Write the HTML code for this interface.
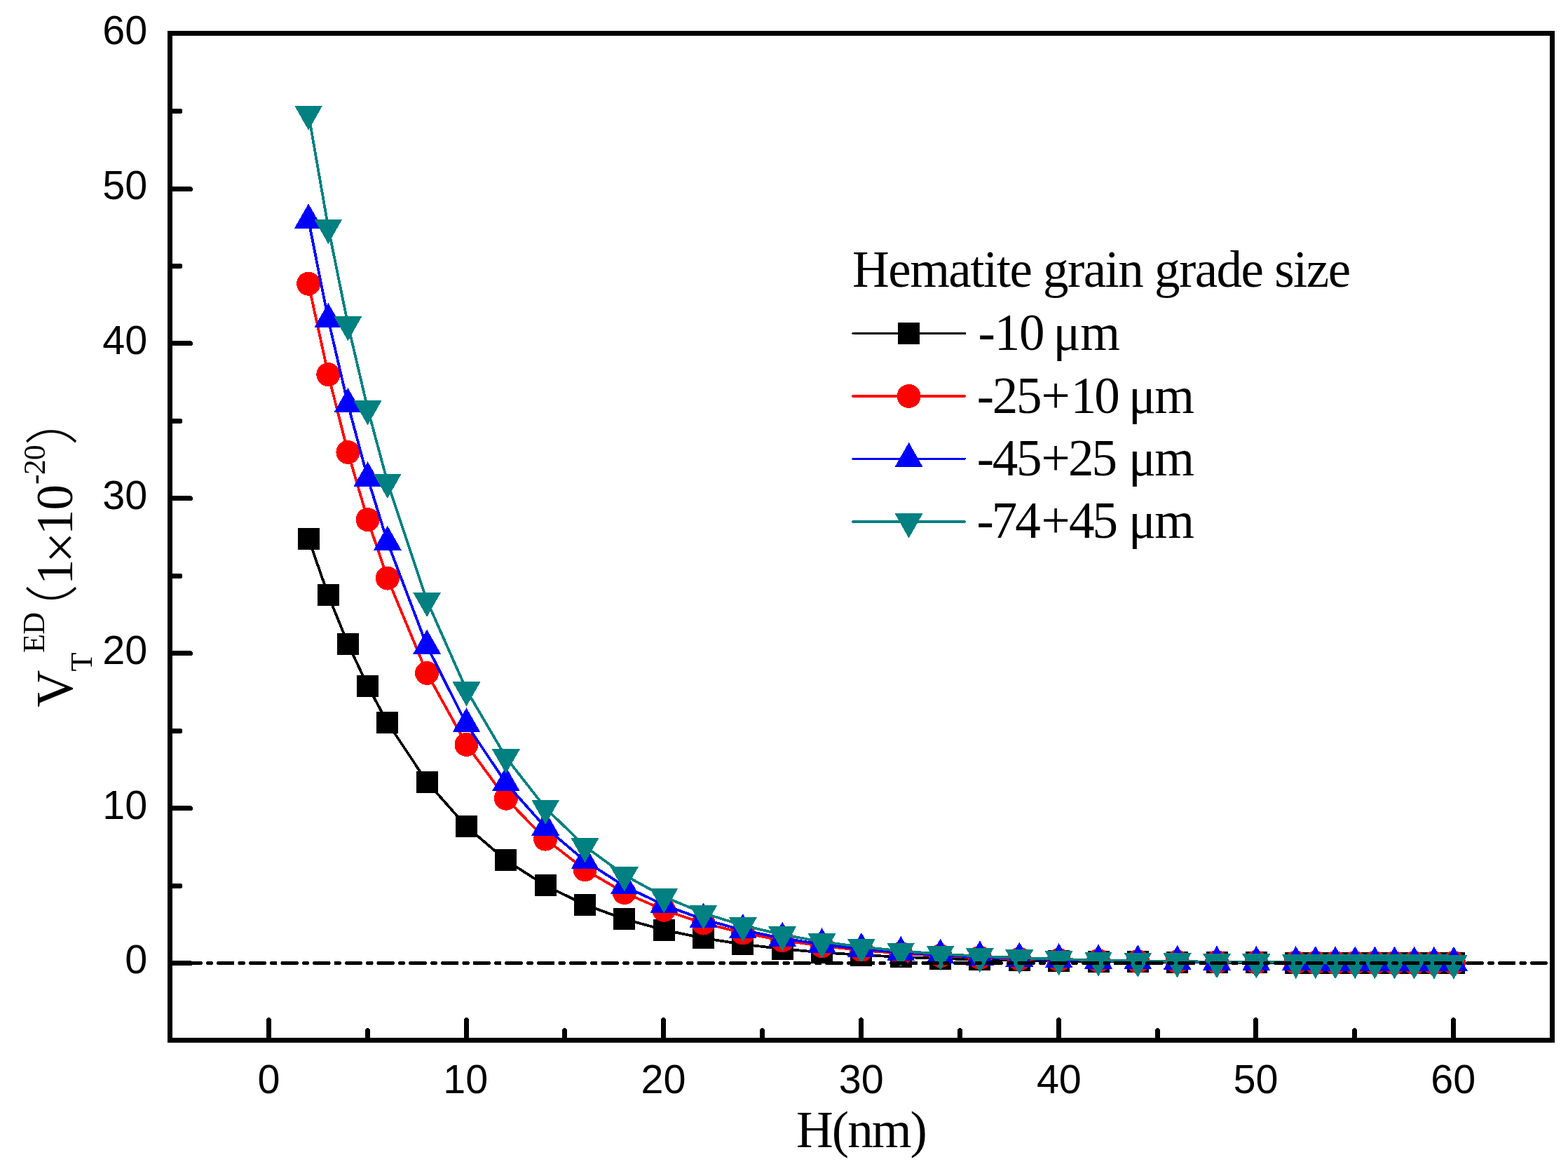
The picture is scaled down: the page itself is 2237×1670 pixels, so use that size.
<!DOCTYPE html>
<html lang="en">
<head>
<meta charset="utf-8">
<title>Hematite grain grade size chart</title>
<style>
html,body{margin:0;padding:0;background:#fff;}
body{width:2237px;height:1670px;overflow:hidden;}
svg{display:block;}
text{fill:#000;white-space:pre;}
.tk{font-family:"Liberation Sans",sans-serif;font-size:57.5px;}
.ti{font-family:"Liberation Serif",serif;font-size:73px;}
.ss{font-family:"Liberation Serif",serif;font-size:44px;}
.mu{font-family:"Liberation Serif",serif;font-size:79px;}
.fw{font-family:"Liberation Serif","Noto Sans CJK SC","Noto Serif CJK SC",sans-serif;font-size:76px;font-weight:300;}
</style>
</head>
<body>
<svg width="2237" height="1670" viewBox="0 0 2237 1670">
<rect x="0" y="0" width="2237" height="1670" fill="#ffffff"/>

<g shape-rendering="crispEdges">
<polyline points="440.1,768.0 468.3,848.9 496.4,918.2 524.6,978.3 552.8,1030.4 609.1,1115.0 665.5,1178.7 721.8,1226.8 778.2,1262.9 834.5,1290.2 890.8,1310.7 947.2,1326.2 1003.5,1337.9 1059.9,1346.7 1116.2,1353.3 1172.6,1358.3 1228.9,1362.0 1285.2,1364.8 1341.6,1367.0 1397.9,1368.6 1454.3,1369.8 1510.6,1370.7 1567.0,1371.4 1623.3,1371.9 1679.6,1372.3 1736.0,1372.6 1792.3,1372.8 1848.7,1373.0 1876.8,1373.1 1905.0,1373.1 1933.2,1373.2 1961.4,1373.2 1989.5,1373.2 2017.7,1373.3 2045.9,1373.3 2074.0,1373.3" fill="none" stroke="#000000" stroke-width="3.8" stroke-linejoin="round"/>
<rect x="424.6" y="752.5" width="31" height="31" fill="#000000"/>
<rect x="452.8" y="833.4" width="31" height="31" fill="#000000"/>
<rect x="480.9" y="902.7" width="31" height="31" fill="#000000"/>
<rect x="509.1" y="962.8" width="31" height="31" fill="#000000"/>
<rect x="537.3" y="1014.9" width="31" height="31" fill="#000000"/>
<rect x="593.6" y="1099.5" width="31" height="31" fill="#000000"/>
<rect x="650.0" y="1163.2" width="31" height="31" fill="#000000"/>
<rect x="706.3" y="1211.3" width="31" height="31" fill="#000000"/>
<rect x="762.7" y="1247.4" width="31" height="31" fill="#000000"/>
<rect x="819.0" y="1274.7" width="31" height="31" fill="#000000"/>
<rect x="875.3" y="1295.2" width="31" height="31" fill="#000000"/>
<rect x="931.7" y="1310.7" width="31" height="31" fill="#000000"/>
<rect x="988.0" y="1322.4" width="31" height="31" fill="#000000"/>
<rect x="1044.4" y="1331.2" width="31" height="31" fill="#000000"/>
<rect x="1100.7" y="1337.8" width="31" height="31" fill="#000000"/>
<rect x="1157.1" y="1342.8" width="31" height="31" fill="#000000"/>
<rect x="1213.4" y="1346.5" width="31" height="31" fill="#000000"/>
<rect x="1269.7" y="1349.3" width="31" height="31" fill="#000000"/>
<rect x="1326.1" y="1351.5" width="31" height="31" fill="#000000"/>
<rect x="1382.4" y="1353.1" width="31" height="31" fill="#000000"/>
<rect x="1438.8" y="1354.3" width="31" height="31" fill="#000000"/>
<rect x="1495.1" y="1355.2" width="31" height="31" fill="#000000"/>
<rect x="1551.5" y="1355.9" width="31" height="31" fill="#000000"/>
<rect x="1607.8" y="1356.4" width="31" height="31" fill="#000000"/>
<rect x="1664.1" y="1356.8" width="31" height="31" fill="#000000"/>
<rect x="1720.5" y="1357.1" width="31" height="31" fill="#000000"/>
<rect x="1776.8" y="1357.3" width="31" height="31" fill="#000000"/>
<rect x="1833.2" y="1357.5" width="31" height="31" fill="#000000"/>
<rect x="1861.3" y="1357.6" width="31" height="31" fill="#000000"/>
<rect x="1889.5" y="1357.6" width="31" height="31" fill="#000000"/>
<rect x="1917.7" y="1357.7" width="31" height="31" fill="#000000"/>
<rect x="1945.9" y="1357.7" width="31" height="31" fill="#000000"/>
<rect x="1974.0" y="1357.7" width="31" height="31" fill="#000000"/>
<rect x="2002.2" y="1357.8" width="31" height="31" fill="#000000"/>
<rect x="2030.4" y="1357.8" width="31" height="31" fill="#000000"/>
<rect x="2058.5" y="1357.8" width="31" height="31" fill="#000000"/>
</g>
<g shape-rendering="crispEdges">
<polyline points="440.1,404.7 468.3,534.2 496.4,645.0 524.6,741.1 552.8,824.6 609.1,959.9 665.5,1061.9 721.8,1138.7 778.2,1196.6 834.5,1240.2 890.8,1273.1 947.2,1297.8 1003.5,1316.5 1059.9,1330.5 1116.2,1341.1 1172.6,1349.1 1228.9,1355.1 1285.2,1359.7 1341.6,1363.1 1397.9,1365.6 1454.3,1367.6 1510.6,1369.0 1567.0,1370.1 1623.3,1371.0 1679.6,1371.6 1736.0,1372.1 1792.3,1372.4 1848.7,1372.7 1876.8,1372.8 1905.0,1372.9 1933.2,1373.0 1961.4,1373.0 1989.5,1373.1 2017.7,1373.2 2045.9,1373.2 2074.0,1373.2" fill="none" stroke="#ff0000" stroke-width="3.8" stroke-linejoin="round"/>
<circle cx="440.1" cy="404.7" r="17" fill="#ff0000"/>
<circle cx="468.3" cy="534.2" r="17" fill="#ff0000"/>
<circle cx="496.4" cy="645.0" r="17" fill="#ff0000"/>
<circle cx="524.6" cy="741.1" r="17" fill="#ff0000"/>
<circle cx="552.8" cy="824.6" r="17" fill="#ff0000"/>
<circle cx="609.1" cy="959.9" r="17" fill="#ff0000"/>
<circle cx="665.5" cy="1061.9" r="17" fill="#ff0000"/>
<circle cx="721.8" cy="1138.7" r="17" fill="#ff0000"/>
<circle cx="778.2" cy="1196.6" r="17" fill="#ff0000"/>
<circle cx="834.5" cy="1240.2" r="17" fill="#ff0000"/>
<circle cx="890.8" cy="1273.1" r="17" fill="#ff0000"/>
<circle cx="947.2" cy="1297.8" r="17" fill="#ff0000"/>
<circle cx="1003.5" cy="1316.5" r="17" fill="#ff0000"/>
<circle cx="1059.9" cy="1330.5" r="17" fill="#ff0000"/>
<circle cx="1116.2" cy="1341.1" r="17" fill="#ff0000"/>
<circle cx="1172.6" cy="1349.1" r="17" fill="#ff0000"/>
<circle cx="1228.9" cy="1355.1" r="17" fill="#ff0000"/>
<circle cx="1285.2" cy="1359.7" r="17" fill="#ff0000"/>
<circle cx="1341.6" cy="1363.1" r="17" fill="#ff0000"/>
<circle cx="1397.9" cy="1365.6" r="17" fill="#ff0000"/>
<circle cx="1454.3" cy="1367.6" r="17" fill="#ff0000"/>
<circle cx="1510.6" cy="1369.0" r="17" fill="#ff0000"/>
<circle cx="1567.0" cy="1370.1" r="17" fill="#ff0000"/>
<circle cx="1623.3" cy="1371.0" r="17" fill="#ff0000"/>
<circle cx="1679.6" cy="1371.6" r="17" fill="#ff0000"/>
<circle cx="1736.0" cy="1372.1" r="17" fill="#ff0000"/>
<circle cx="1792.3" cy="1372.4" r="17" fill="#ff0000"/>
<circle cx="1848.7" cy="1372.7" r="17" fill="#ff0000"/>
<circle cx="1876.8" cy="1372.8" r="17" fill="#ff0000"/>
<circle cx="1905.0" cy="1372.9" r="17" fill="#ff0000"/>
<circle cx="1933.2" cy="1373.0" r="17" fill="#ff0000"/>
<circle cx="1961.4" cy="1373.0" r="17" fill="#ff0000"/>
<circle cx="1989.5" cy="1373.1" r="17" fill="#ff0000"/>
<circle cx="2017.7" cy="1373.2" r="17" fill="#ff0000"/>
<circle cx="2045.9" cy="1373.2" r="17" fill="#ff0000"/>
<circle cx="2074.0" cy="1373.2" r="17" fill="#ff0000"/>
</g>
<g shape-rendering="crispEdges">
<polyline points="440.1,313.8 468.3,455.5 496.4,576.7 524.6,681.8 552.8,773.1 609.1,921.1 665.5,1032.7 721.8,1116.7 778.2,1180.0 834.5,1227.7 890.8,1263.7 947.2,1290.7 1003.5,1311.1 1059.9,1326.5 1116.2,1338.1 1172.6,1346.8 1228.9,1353.4 1285.2,1358.4 1341.6,1362.1 1397.9,1364.9 1454.3,1367.0 1510.6,1368.6 1567.0,1369.8 1623.3,1370.7 1679.6,1371.4 1736.0,1371.9 1792.3,1372.3 1848.7,1372.6 1876.8,1372.7 1905.0,1372.8 1933.2,1372.9 1961.4,1373.0 1989.5,1373.1 2017.7,1373.1 2045.9,1373.2 2074.0,1373.2" fill="none" stroke="#0000ff" stroke-width="3.8" stroke-linejoin="round"/>
<path d="M440.1 290.3L460.1 325.5L420.1 325.5Z" fill="#0000ff"/>
<path d="M468.3 432.0L488.3 467.2L448.3 467.2Z" fill="#0000ff"/>
<path d="M496.4 553.2L516.4 588.4L476.4 588.4Z" fill="#0000ff"/>
<path d="M524.6 658.3L544.6 693.5L504.6 693.5Z" fill="#0000ff"/>
<path d="M552.8 749.6L572.8 784.8L532.8 784.8Z" fill="#0000ff"/>
<path d="M609.1 897.6L629.1 932.8L589.1 932.8Z" fill="#0000ff"/>
<path d="M665.5 1009.2L685.5 1044.4L645.5 1044.4Z" fill="#0000ff"/>
<path d="M721.8 1093.2L741.8 1128.4L701.8 1128.4Z" fill="#0000ff"/>
<path d="M778.2 1156.5L798.2 1191.7L758.2 1191.7Z" fill="#0000ff"/>
<path d="M834.5 1204.2L854.5 1239.4L814.5 1239.4Z" fill="#0000ff"/>
<path d="M890.8 1240.2L910.8 1275.4L870.8 1275.4Z" fill="#0000ff"/>
<path d="M947.2 1267.2L967.2 1302.4L927.2 1302.4Z" fill="#0000ff"/>
<path d="M1003.5 1287.6L1023.5 1322.8L983.5 1322.8Z" fill="#0000ff"/>
<path d="M1059.9 1303.0L1079.9 1338.2L1039.9 1338.2Z" fill="#0000ff"/>
<path d="M1116.2 1314.6L1136.2 1349.8L1096.2 1349.8Z" fill="#0000ff"/>
<path d="M1172.6 1323.3L1192.6 1358.5L1152.6 1358.5Z" fill="#0000ff"/>
<path d="M1228.9 1329.9L1248.9 1365.1L1208.9 1365.1Z" fill="#0000ff"/>
<path d="M1285.2 1334.9L1305.2 1370.1L1265.2 1370.1Z" fill="#0000ff"/>
<path d="M1341.6 1338.6L1361.6 1373.8L1321.6 1373.8Z" fill="#0000ff"/>
<path d="M1397.9 1341.4L1417.9 1376.6L1377.9 1376.6Z" fill="#0000ff"/>
<path d="M1454.3 1343.5L1474.3 1378.7L1434.3 1378.7Z" fill="#0000ff"/>
<path d="M1510.6 1345.1L1530.6 1380.3L1490.6 1380.3Z" fill="#0000ff"/>
<path d="M1567.0 1346.3L1587.0 1381.5L1547.0 1381.5Z" fill="#0000ff"/>
<path d="M1623.3 1347.2L1643.3 1382.4L1603.3 1382.4Z" fill="#0000ff"/>
<path d="M1679.6 1347.9L1699.6 1383.1L1659.6 1383.1Z" fill="#0000ff"/>
<path d="M1736.0 1348.4L1756.0 1383.6L1716.0 1383.6Z" fill="#0000ff"/>
<path d="M1792.3 1348.8L1812.3 1384.0L1772.3 1384.0Z" fill="#0000ff"/>
<path d="M1848.7 1349.1L1868.7 1384.3L1828.7 1384.3Z" fill="#0000ff"/>
<path d="M1876.8 1349.2L1896.8 1384.4L1856.8 1384.4Z" fill="#0000ff"/>
<path d="M1905.0 1349.3L1925.0 1384.5L1885.0 1384.5Z" fill="#0000ff"/>
<path d="M1933.2 1349.4L1953.2 1384.6L1913.2 1384.6Z" fill="#0000ff"/>
<path d="M1961.4 1349.5L1981.4 1384.7L1941.4 1384.7Z" fill="#0000ff"/>
<path d="M1989.5 1349.6L2009.5 1384.8L1969.5 1384.8Z" fill="#0000ff"/>
<path d="M2017.7 1349.6L2037.7 1384.8L1997.7 1384.8Z" fill="#0000ff"/>
<path d="M2045.9 1349.7L2065.9 1384.9L2025.9 1384.9Z" fill="#0000ff"/>
<path d="M2074.0 1349.7L2094.0 1384.9L2054.0 1384.9Z" fill="#0000ff"/>
</g>
<g shape-rendering="crispEdges">
<polyline points="440.1,162.4 468.3,324.4 496.4,462.8 524.6,583.0 552.8,687.4 609.1,856.5 665.5,984.0 721.8,1080.0 778.2,1152.4 834.5,1206.9 890.8,1248.0 947.2,1278.9 1003.5,1302.2 1059.9,1319.8 1116.2,1333.0 1172.6,1343.0 1228.9,1350.5 1285.2,1356.2 1341.6,1360.5 1397.9,1363.7 1454.3,1366.1 1510.6,1367.9 1567.0,1369.3 1623.3,1370.3 1679.6,1371.1 1736.0,1371.7 1792.3,1372.1 1848.7,1372.5 1876.8,1372.6 1905.0,1372.7 1933.2,1372.8 1961.4,1372.9 1989.5,1373.0 2017.7,1373.1 2045.9,1373.1 2074.0,1373.2" fill="none" stroke="#008080" stroke-width="3.8" stroke-linejoin="round"/>
<path d="M440.1 185.9L460.1 150.7L420.1 150.7Z" fill="#008080"/>
<path d="M468.3 347.9L488.3 312.7L448.3 312.7Z" fill="#008080"/>
<path d="M496.4 486.3L516.4 451.1L476.4 451.1Z" fill="#008080"/>
<path d="M524.6 606.5L544.6 571.3L504.6 571.3Z" fill="#008080"/>
<path d="M552.8 710.9L572.8 675.7L532.8 675.7Z" fill="#008080"/>
<path d="M609.1 880.0L629.1 844.8L589.1 844.8Z" fill="#008080"/>
<path d="M665.5 1007.5L685.5 972.3L645.5 972.3Z" fill="#008080"/>
<path d="M721.8 1103.5L741.8 1068.3L701.8 1068.3Z" fill="#008080"/>
<path d="M778.2 1175.9L798.2 1140.7L758.2 1140.7Z" fill="#008080"/>
<path d="M834.5 1230.4L854.5 1195.2L814.5 1195.2Z" fill="#008080"/>
<path d="M890.8 1271.5L910.8 1236.3L870.8 1236.3Z" fill="#008080"/>
<path d="M947.2 1302.4L967.2 1267.2L927.2 1267.2Z" fill="#008080"/>
<path d="M1003.5 1325.7L1023.5 1290.5L983.5 1290.5Z" fill="#008080"/>
<path d="M1059.9 1343.3L1079.9 1308.1L1039.9 1308.1Z" fill="#008080"/>
<path d="M1116.2 1356.5L1136.2 1321.3L1096.2 1321.3Z" fill="#008080"/>
<path d="M1172.6 1366.5L1192.6 1331.3L1152.6 1331.3Z" fill="#008080"/>
<path d="M1228.9 1374.0L1248.9 1338.8L1208.9 1338.8Z" fill="#008080"/>
<path d="M1285.2 1379.7L1305.2 1344.5L1265.2 1344.5Z" fill="#008080"/>
<path d="M1341.6 1384.0L1361.6 1348.8L1321.6 1348.8Z" fill="#008080"/>
<path d="M1397.9 1387.2L1417.9 1352.0L1377.9 1352.0Z" fill="#008080"/>
<path d="M1454.3 1389.6L1474.3 1354.4L1434.3 1354.4Z" fill="#008080"/>
<path d="M1510.6 1391.4L1530.6 1356.2L1490.6 1356.2Z" fill="#008080"/>
<path d="M1567.0 1392.8L1587.0 1357.6L1547.0 1357.6Z" fill="#008080"/>
<path d="M1623.3 1393.8L1643.3 1358.6L1603.3 1358.6Z" fill="#008080"/>
<path d="M1679.6 1394.6L1699.6 1359.4L1659.6 1359.4Z" fill="#008080"/>
<path d="M1736.0 1395.2L1756.0 1360.0L1716.0 1360.0Z" fill="#008080"/>
<path d="M1792.3 1395.6L1812.3 1360.4L1772.3 1360.4Z" fill="#008080"/>
<path d="M1848.7 1396.0L1868.7 1360.8L1828.7 1360.8Z" fill="#008080"/>
<path d="M1876.8 1396.1L1896.8 1360.9L1856.8 1360.9Z" fill="#008080"/>
<path d="M1905.0 1396.2L1925.0 1361.0L1885.0 1361.0Z" fill="#008080"/>
<path d="M1933.2 1396.3L1953.2 1361.1L1913.2 1361.1Z" fill="#008080"/>
<path d="M1961.4 1396.4L1981.4 1361.2L1941.4 1361.2Z" fill="#008080"/>
<path d="M1989.5 1396.5L2009.5 1361.3L1969.5 1361.3Z" fill="#008080"/>
<path d="M2017.7 1396.6L2037.7 1361.4L1997.7 1361.4Z" fill="#008080"/>
<path d="M2045.9 1396.6L2065.9 1361.4L2025.9 1361.4Z" fill="#008080"/>
<path d="M2074.0 1396.7L2094.0 1361.5L2054.0 1361.5Z" fill="#008080"/>
</g>
<line x1="242.5" y1="1373.5" x2="2214.5" y2="1373.5" stroke="#000" stroke-width="5" stroke-linecap="round" stroke-dasharray="20.5 10 5.3 9.9" stroke-dashoffset="22.4" shape-rendering="crispEdges"/>
<g stroke="#000" stroke-width="7" fill="none" shape-rendering="crispEdges">
<rect x="242.5" y="47.5" width="1972.0" height="1436.0"/>
</g>
<g stroke="#000" stroke-width="7" fill="none" stroke-linecap="round" shape-rendering="crispEdges">
<line x1="242.5" y1="1373.5" x2="271.5" y2="1373.5"/>
<line x1="242.5" y1="1263.5" x2="257.0" y2="1263.5"/>
<line x1="242.5" y1="1152.5" x2="271.5" y2="1152.5"/>
<line x1="242.5" y1="1042.5" x2="257.0" y2="1042.5"/>
<line x1="242.5" y1="931.5" x2="271.5" y2="931.5"/>
<line x1="242.5" y1="821.5" x2="257.0" y2="821.5"/>
<line x1="242.5" y1="710.5" x2="271.5" y2="710.5"/>
<line x1="242.5" y1="600.5" x2="257.0" y2="600.5"/>
<line x1="242.5" y1="489.5" x2="271.5" y2="489.5"/>
<line x1="242.5" y1="379.5" x2="257.0" y2="379.5"/>
<line x1="242.5" y1="269.5" x2="271.5" y2="269.5"/>
<line x1="242.5" y1="158.5" x2="257.0" y2="158.5"/>
<line x1="383.5" y1="1483.5" x2="383.5" y2="1454.5"/>
<line x1="524.5" y1="1483.5" x2="524.5" y2="1469.5"/>
<line x1="665.5" y1="1483.5" x2="665.5" y2="1454.5"/>
<line x1="805.5" y1="1483.5" x2="805.5" y2="1469.5"/>
<line x1="946.5" y1="1483.5" x2="946.5" y2="1454.5"/>
<line x1="1087.5" y1="1483.5" x2="1087.5" y2="1469.5"/>
<line x1="1228.5" y1="1483.5" x2="1228.5" y2="1454.5"/>
<line x1="1369.5" y1="1483.5" x2="1369.5" y2="1469.5"/>
<line x1="1510.5" y1="1483.5" x2="1510.5" y2="1454.5"/>
<line x1="1651.5" y1="1483.5" x2="1651.5" y2="1469.5"/>
<line x1="1791.5" y1="1483.5" x2="1791.5" y2="1454.5"/>
<line x1="1932.5" y1="1483.5" x2="1932.5" y2="1469.5"/>
<line x1="2073.5" y1="1483.5" x2="2073.5" y2="1454.5"/>
</g>
<g>
<text class="tk" x="178.2" y="1388.4">0</text>
<text class="tk" x="146.2" y="1168.4">10</text>
<text class="tk" x="146.2" y="947.4">20</text>
<text class="tk" x="146.2" y="726.4">30</text>
<text class="tk" x="146.2" y="505.4">40</text>
<text class="tk" x="146.2" y="284.4">50</text>
<text class="tk" x="146.2" y="63.4">60</text>
<text class="tk" x="367.6" y="1559.4">0</text>
<text class="tk" x="632.3" y="1559.4">10</text>
<text class="tk" x="914.5" y="1559.4">20</text>
<text class="tk" x="1196.7" y="1559.4">30</text>
<text class="tk" x="1478.9" y="1559.4">40</text>
<text class="tk" x="1759.6" y="1559.4">50</text>
<text class="tk" x="2041.3" y="1559.4">60</text>
<text class="ti" x="1136.0" y="1635.9" style="letter-spacing:-1.93px">H(nm)</text>
<text class="ti" x="1216.1" y="409.2" style="letter-spacing:-1.54px">Hematite grain grade size</text>
<text><tspan class="ti" x="1395.6" y="499.3" style="letter-spacing:-1.25px">-10 </tspan><tspan class="ti" x="1502.5" y="499.3" style="letter-spacing:-0.40px">μm</tspan></text>
<text><tspan class="ti" x="1393.7" y="588.6" style="letter-spacing:-2.30px">-25</tspan><tspan class="ti" x="1485.6" y="588.6">+</tspan><tspan class="ti" x="1527.7" y="588.6" style="letter-spacing:-3.00px">10 </tspan><tspan class="ti" x="1609.9" y="588.6" style="letter-spacing:-1.90px">μm</tspan></text>
<text><tspan class="ti" x="1393.7" y="678.1" style="letter-spacing:-2.30px">-45</tspan><tspan class="ti" x="1485.6" y="678.1">+</tspan><tspan class="ti" x="1523.9" y="678.1" style="letter-spacing:-3.00px">25 </tspan><tspan class="ti" x="1609.9" y="678.1" style="letter-spacing:-1.90px">μm</tspan></text>
<text><tspan class="ti" x="1393.4" y="767.4" style="letter-spacing:-3.00px">-74</tspan><tspan class="ti" x="1485.6" y="767.4">+</tspan><tspan class="ti" x="1524.9" y="767.4" style="letter-spacing:-3.00px">45 </tspan><tspan class="ti" x="1609.9" y="767.4" style="letter-spacing:-1.90px">μm</tspan></text>
</g>
<g transform="translate(102.7 1007.0) rotate(-90)">
<text><tspan class="ti" x="-1.4" y="0.0">V</tspan><tspan class="ss" x="49.4" y="27.9">T</tspan><tspan class="ss" x="75.9" y="-39.4" style="letter-spacing:-0.60px">ED </tspan><tspan class="fw" x="97.8" y="-0.4">（</tspan><tspan class="ti" x="173.1" y="0.0">1</tspan><tspan class="mu" x="203.9" y="8.8">×</tspan><tspan class="ti" x="243.9" y="0.0">1</tspan><tspan class="ti" x="279.6" y="0.0">0</tspan><tspan class="ss" x="316.1" y="-38.8" style="letter-spacing:-1.00px">-20</tspan><tspan class="fw" x="371.9" y="-0.4">）</tspan></text>
</g>
<g shape-rendering="crispEdges">
<line x1="1217" y1="475.5" x2="1376.2" y2="475.5" stroke="#000000" stroke-width="3.4" stroke-linecap="round"/>
<rect x="1281.1" y="460.0" width="31" height="31" fill="#000000"/>
<line x1="1217" y1="565.0" x2="1376.2" y2="565.0" stroke="#ff0000" stroke-width="3.4" stroke-linecap="round"/>
<circle cx="1296.6" cy="565.0" r="17" fill="#ff0000"/>
<line x1="1217" y1="654.4" x2="1376.2" y2="654.4" stroke="#0000ff" stroke-width="3.4" stroke-linecap="round"/>
<path d="M1296.6 630.9L1316.6 666.1L1276.6 666.1Z" fill="#0000ff"/>
<line x1="1217" y1="744.0" x2="1376.2" y2="744.0" stroke="#008080" stroke-width="3.4" stroke-linecap="round"/>
<path d="M1296.6 767.5L1316.6 732.3L1276.6 732.3Z" fill="#008080"/>
</g>
</svg>
</body>
</html>
